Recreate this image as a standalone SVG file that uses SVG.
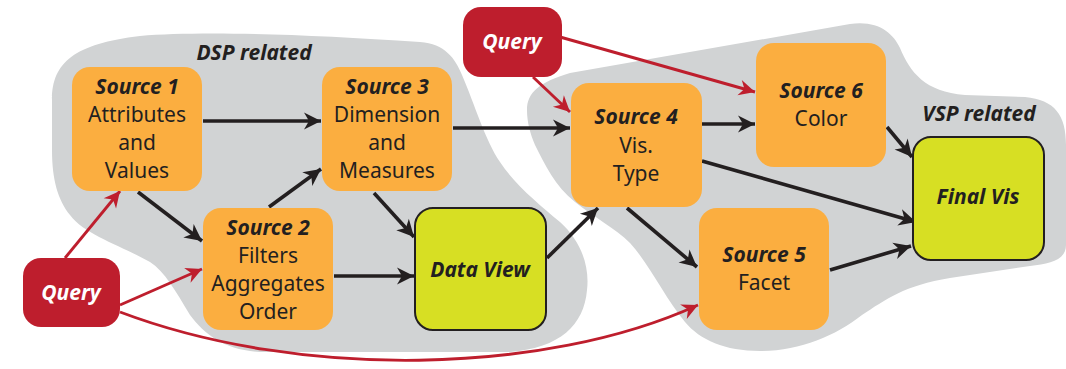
<svg xmlns="http://www.w3.org/2000/svg" width="1066" height="369" viewBox="0 0 1066 369">
  <defs>
    <style>
      .region { fill: #d1d3d4; }
      .src { fill: #fbae40; }
      .out { fill: #d7df23; stroke: #231f20; stroke-width: 2; }
      .query { fill: #be1e2d; }
      text { font-family: "Noto Sans", "Open Sans", sans-serif; font-size: 21px; text-anchor: middle; fill: #231f20; }
      .t { font-weight: bold; font-style: italic; }
      .qt { font-weight: bold; font-style: italic; fill: #ffffff; }
      .flow { fill: none; stroke: #231f20; stroke-width: 3.6; marker-end: url(#arrowBlack); }
      .qflow { fill: none; stroke: #be1e2d; stroke-width: 2.9; marker-end: url(#arrowRed); }
    </style>
    <marker id="arrowBlack" markerUnits="userSpaceOnUse" markerWidth="20" markerHeight="20" refX="0" refY="0" viewBox="-18 -10 20 20" orient="auto">
      <path d="M0,0 L-17,-8.5 L-12,0 L-17,8.5 Z" fill="#231f20"/>
    </marker>
    <marker id="arrowRed" markerUnits="userSpaceOnUse" markerWidth="20" markerHeight="20" refX="0" refY="0" viewBox="-18 -10 20 20" orient="auto">
      <path d="M0,0 L-16,-8 L-11,0 L-16,8 Z" fill="#be1e2d"/>
    </marker>
  </defs>

  <!-- background regions -->
  <g id="dsp-region">
    <path class="region" d="M52,100 C52,62 75,44 140,36 C200,31 300,34 420,42 C445,44 455,58 462,75 C475,105 485,140 500,162 C515,185 540,205 560,222 C580,240 590,265 587,290 C584,325 560,348 510,352 L260,352 C225,350 205,335 190,315 C175,290 165,272 150,262 C120,245 85,235 70,215 C58,200 52,180 52,150 Z"/>
    <text class="t" x="254" y="60">DSP related</text>
  </g>
  <g id="vsp-region">
    <path class="region" d="M527,110 C527,92 540,82 570,73 L850,24 C878,20 893,33 900,48 C910,72 925,92 965,95 L1025,97 C1055,100 1066,115 1066,145 L1066,245 C1066,260 1050,264 1030,266 L950,278 C905,285 885,300 862,315 C835,336 800,351 760,351 C725,351 700,340 685,322 C665,298 650,265 630,243 C615,228 595,218 575,202 C555,186 545,165 535,145 C530,133 527,122 527,110 Z"/>
    <text class="t" x="979" y="121">VSP related</text>
  </g>

  <!-- connectors -->
  <g id="connectors">
    <path class="flow" d="M203,121 L321,121"/>
    <path class="flow" d="M138,192 L202,241"/>
    <path class="flow" d="M269,207 L321,169"/>
    <path class="flow" d="M374,193 L414,237"/>
    <path class="flow" d="M334,276 L414,276"/>
    <path class="flow" d="M453,128 L570,128"/>
    <path class="flow" d="M547,258 L598,208"/>
    <path class="flow" d="M702,124 L755,124"/>
    <path class="flow" d="M702,161 L916,222"/>
    <path class="flow" d="M887,127 L912,157"/>
    <path class="flow" d="M627,208 L697,267"/>
    <path class="flow" d="M830,270 L911,246"/>
    <path class="qflow" d="M65,258 L120,191"/>
    <path class="qflow" d="M120,305 L202,269"/>
    <path class="qflow" d="M120,312 C300,380 545,375 698,305"/>
    <path class="qflow" d="M533,77 L570,112"/>
    <path class="qflow" d="M560,37 L755,92"/>
  </g>

  <!-- nodes -->
  <g id="query-left">
    <rect class="query" x="23" y="258" width="97" height="69" rx="18"/>
    <text class="qt" x="71" y="300">Query</text>
  </g>
  <g id="query-top">
    <rect class="query" x="463" y="7" width="99" height="70" rx="18"/>
    <text class="qt" x="512" y="49">Query</text>
  </g>
  <g id="source1">
    <rect class="src" x="72" y="67" width="130" height="124" rx="18"/>
    <text class="t" x="137" y="94">Source 1</text>
    <text x="137" y="122">Attributes</text>
    <text x="137" y="150">and</text>
    <text x="137" y="178">Values</text>
  </g>
  <g id="source3">
    <rect class="src" x="322" y="67" width="130" height="124" rx="18"/>
    <text class="t" x="387" y="94">Source 3</text>
    <text x="387" y="122">Dimension</text>
    <text x="387" y="150">and</text>
    <text x="387" y="178">Measures</text>
  </g>
  <g id="source2">
    <rect class="src" x="203" y="208" width="130" height="122" rx="18"/>
    <text class="t" x="268" y="235">Source 2</text>
    <text x="268" y="263">Filters</text>
    <text x="268" y="291">Aggregates</text>
    <text x="268" y="319">Order</text>
  </g>
  <g id="data-view">
    <rect class="out" x="415" y="208" width="131" height="122" rx="18"/>
    <text class="t" x="480" y="277">Data View</text>
  </g>
  <g id="source4">
    <rect class="src" x="571" y="83" width="131" height="124" rx="18"/>
    <text class="t" x="636" y="124">Source 4</text>
    <text x="636" y="153">Vis.</text>
    <text x="636" y="181">Type</text>
  </g>
  <g id="source6">
    <rect class="src" x="756" y="43" width="130" height="124" rx="18"/>
    <text class="t" x="821" y="98">Source 6</text>
    <text x="821" y="126">Color</text>
  </g>
  <g id="source5">
    <rect class="src" x="699" y="208" width="130" height="122" rx="18"/>
    <text class="t" x="764" y="262">Source 5</text>
    <text x="764" y="290">Facet</text>
  </g>
  <g id="final-vis">
    <rect class="out" x="913" y="137" width="131" height="123" rx="18"/>
    <text class="t" x="978" y="204">Final Vis</text>
  </g>
</svg>
